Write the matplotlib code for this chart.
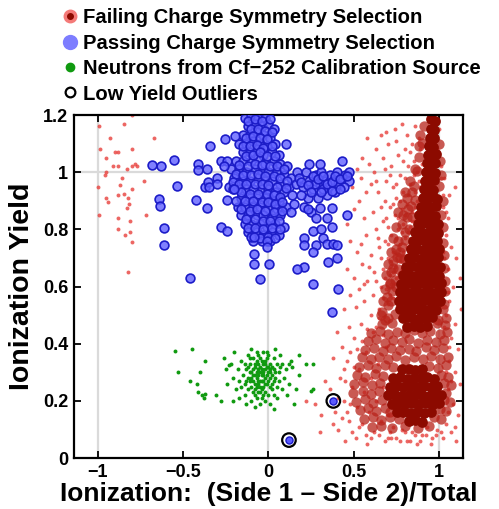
"""Ionization yield vs charge asymmetry scatter (recreated)."""

import matplotlib

matplotlib.use('Agg')
import matplotlib.pyplot as plt
import numpy as np
from matplotlib.legend_handler import HandlerTuple
from matplotlib.lines import Line2D

# --- data (x = asymmetry, y = ionization yield) ---

red_sparse = [
    # scattered events at the far left
    (-0.99, 1.16), (-0.845, 1.17), (-0.80, 1.20), (-0.67, 1.12), (-0.985, 1.08),
    (-0.95, 1.05), (-0.90, 1.07), (-0.88, 1.07), (-0.80, 1.08), (-0.91, 1.02),
    (-0.88, 1.02), (-0.83, 1.01), (-0.80, 1.02), (-0.78, 1.03), (-0.77, 1.02),
    (-0.96, 0.99), (-0.95, 1.00), (-1.00, 0.95), (-0.87, 0.955), (-0.73, 0.97),
    (-0.80, 0.94), (-0.95, 0.91), (-0.94, 0.895), (-0.88, 0.92), (-0.845, 0.925),
    (-0.82, 0.91), (-0.815, 0.89), (-0.83, 0.875), (-0.99, 0.85), (-0.72, 0.85),
    (-0.88, 0.84), (-0.81, 0.83), (-0.88, 0.80), (-0.81, 0.79), (-0.84, 0.78),
    (-0.80, 0.755), (-0.82, 0.65), (-0.93, 1.12), (-0.86, 0.98),
    # upper fan left of the plume
    (0.47, 0.99), (0.49, 0.95), (0.52, 1.01), (0.55, 1.05), (0.58, 1.12), (0.66, 1.13),
    (0.60, 0.96), (0.62, 1.00), (0.64, 0.93), (0.50, 0.87), (0.53, 0.90), (0.46, 0.82),
    (0.56, 0.84), (0.61, 0.86), (0.48, 0.76), (0.52, 0.72), (0.57, 0.78), (0.63, 0.80),
    (0.46, 0.66), (0.50, 0.63), (0.55, 0.68), (0.60, 0.71), (0.65, 0.74), (0.48, 0.57),
    (0.53, 0.59), (0.58, 0.62), (0.62, 0.65), (0.44, 0.52), (0.51, 0.53), (0.56, 0.55),
    (0.61, 0.57), (0.66, 0.60), (0.67, 1.05), (0.70, 1.10), (0.74, 1.15), (0.78, 1.17),
    (0.81, 1.13), (0.72, 1.02), (0.76, 1.06), (0.80, 1.08), (0.84, 1.10), (0.86, 1.16),
    (0.88, 1.12), (0.69, 0.97), (0.73, 0.95), (0.77, 0.99), (0.82, 1.02), (0.85, 1.04),
    (0.87, 1.00), (0.68, 0.90), (0.71, 0.88), (0.75, 0.91), (0.79, 0.93), (0.83, 0.96),
    (0.86, 0.93), (0.88, 0.97), (0.67, 0.83), (0.70, 0.81), (0.74, 0.85), (0.78, 0.87),
    (0.81, 0.89), (0.84, 0.86), (0.86, 0.88), (0.68, 0.76), (0.72, 0.78), (0.76, 0.80),
    (0.79, 0.82), (0.82, 0.79), (0.84, 0.83), (0.70, 0.70), (0.73, 0.72), (0.77, 0.75),
    (0.80, 0.77), (0.67, 0.66), (0.71, 0.64), (0.74, 0.67), (0.77, 0.69), (0.69, 0.59),
    (0.72, 0.61), (0.75, 0.63), (0.70, 0.54), (0.73, 0.56), (0.76, 0.58),
    (0.63, 1.08), (0.69, 1.14), (0.75, 1.11), (0.79, 1.04), (0.83, 1.07), (0.89, 1.08),
    (0.90, 1.03), (0.71, 0.99), (0.75, 0.96), (0.80, 0.98), (0.85, 0.99), (0.89, 0.95),
    (0.66, 0.88), (0.73, 0.89), (0.77, 0.90), (0.82, 0.92), (0.87, 0.90), (0.69, 0.84),
    (0.76, 0.84), (0.80, 0.85), (0.83, 0.81), (0.86, 0.83), (0.64, 0.77), (0.70, 0.75),
    (0.75, 0.77), (0.78, 0.79), (0.81, 0.74), (0.66, 0.70), (0.72, 0.69), (0.75, 0.71),
    (0.79, 0.72), (0.63, 0.62), (0.68, 0.63), (0.73, 0.65), (0.78, 0.66), (0.67, 0.56),
    (0.71, 0.57), (0.65, 0.52), (0.60, 0.50), (0.56, 0.61), (0.54, 0.75), (0.59, 0.67),
    (0.57, 0.93), (0.63, 0.97), (0.68, 1.01), (0.54, 0.98), (0.59, 1.03),
    # right of the plume
    (1.00, 1.15), (0.99, 1.08), (1.01, 1.02), (1.03, 0.98), (1.06, 0.92), (1.02, 0.88),
    (1.05, 0.84), (1.09, 0.95), (1.04, 0.78), (1.07, 0.74), (1.02, 0.72), (1.10, 0.70),
    (1.05, 0.66), (1.03, 0.62), (1.08, 0.60), (1.12, 0.63), (1.06, 0.55), (1.04, 0.50),
    (1.09, 0.47), (1.13, 0.52), (1.07, 0.42), (1.11, 0.38), (1.06, 0.34), (1.09, 0.30),
    (1.12, 0.26), (1.05, 0.24), (1.08, 0.19), (1.11, 0.15), (1.04, 0.12), (1.07, 0.09),
    (1.02, 0.07), (1.10, 0.06), (1.01, 0.98), (1.02, 0.92), (1.04, 0.86), (1.01, 0.80),
    (1.03, 0.70), (1.05, 0.58), (1.03, 0.46), (1.06, 0.39), (1.04, 0.30), (1.07, 0.27),
    (1.05, 0.16), (1.09, 0.11),
    # low-yield halo
    (0.36, 0.24), (0.39, 0.16), (0.42, 0.28), (0.41, 0.10), (0.44, 0.20), (0.46, 0.34),
    (0.47, 0.13), (0.49, 0.25), (0.50, 0.42), (0.51, 0.07), (0.52, 0.18), (0.53, 0.31),
    (0.54, 0.47), (0.55, 0.12), (0.56, 0.23), (0.57, 0.37), (0.58, 0.05), (0.59, 0.16),
    (0.60, 0.28), (0.61, 0.44), (0.62, 0.09), (0.63, 0.20), (0.64, 0.33), (0.65, 0.49),
    (0.66, 0.13), (0.67, 0.25), (0.68, 0.06), (0.69, 0.39), (0.70, 0.15), (0.71, 0.09),
    (0.73, 0.11), (0.75, 0.07), (0.78, 0.10), (0.81, 0.06), (0.84, 0.09), (0.87, 0.05),
    (0.90, 0.08), (0.93, 0.11), (0.96, 0.07), (0.99, 0.10), (0.43, 0.39), (0.47, 0.46),
    (0.38, 0.35), (0.45, 0.06), (0.40, 0.44), (0.22, 0.20), (0.27, 0.19), (0.31, 0.15),
    (0.33, 0.27), (0.30, 0.09), (0.38, 0.12), (0.41, 0.21), (0.43, 0.14), (0.45, 0.27),
    (0.48, 0.19), (0.49, 0.09), (0.50, 0.32), (0.52, 0.38), (0.53, 0.11), (0.55, 0.41),
    (0.57, 0.08), (0.58, 0.45), (0.60, 0.07), (0.63, 0.46), (0.65, 0.08), (0.67, 0.43),
    (0.70, 0.07), (0.72, 0.07), (0.77, 0.06), (0.80, 0.09), (0.83, 0.06), (0.86, 0.08),
    (0.89, 0.06), (0.92, 0.08), (0.95, 0.05), (0.98, 0.08), (1.01, 0.09), (0.46, 0.16),
    (0.44, 0.31), (0.48, 0.37),
]

red_mid = [
    (0.665, 0.468), (0.722, 0.474), (0.988, 0.472), (1.034, 0.466),
    (0.603, 0.437), (0.652, 0.446), (0.698, 0.433), (0.751, 0.442), (0.797, 0.436),
    (0.852, 0.447), (0.899, 0.438), (0.948, 0.444), (1.002, 0.435), (1.043, 0.442),
    (0.583, 0.408), (0.628, 0.415), (0.681, 0.404), (0.729, 0.412), (0.784, 0.406),
    (0.826, 0.417), (0.878, 0.403), (0.931, 0.414), (0.982, 0.407), (1.028, 0.413),
    (0.566, 0.377), (0.618, 0.385), (0.672, 0.376), (0.716, 0.386), (0.768, 0.378),
    (0.824, 0.383), (0.866, 0.374), (0.921, 0.387), (0.968, 0.379), (1.022, 0.384),
    (0.547, 0.352), (0.603, 0.346), (0.649, 0.355), (0.703, 0.347), (0.748, 0.356),
    (0.797, 0.344), (0.853, 0.353), (0.904, 0.346), (0.951, 0.356), (1.003, 0.347),
    (1.052, 0.353), (0.532, 0.318), (0.584, 0.326), (0.629, 0.315), (0.684, 0.324),
    (0.732, 0.317), (0.938, 0.322), (0.992, 0.316), (1.041, 0.325),
    (0.521, 0.292), (0.568, 0.284), (0.623, 0.294), (0.671, 0.286), (1.012, 0.291),
    (1.053, 0.283), (0.503, 0.258), (0.551, 0.266), (0.604, 0.255), (0.652, 0.264),
    (1.031, 0.262), (1.072, 0.254), (0.498, 0.228), (0.556, 0.236), (0.598, 0.224),
    (0.648, 0.233), (1.042, 0.227), (0.512, 0.197), (0.563, 0.205), (0.611, 0.193),
    (0.664, 0.202), (1.028, 0.204), (1.061, 0.196), (0.534, 0.168), (0.582, 0.174),
    (0.631, 0.165), (0.683, 0.176), (0.714, 0.162), (1.003, 0.172), (1.041, 0.166),
    (0.562, 0.138), (0.613, 0.145), (0.662, 0.134), (0.712, 0.143), (0.763, 0.136),
    (0.971, 0.144), (1.012, 0.137), (0.604, 0.108), (0.661, 0.114), (0.723, 0.106),
    (0.802, 0.113), (0.878, 0.104), (0.942, 0.112),
    (0.852, 0.952), (0.861, 0.902), (0.843, 0.843), (0.821, 0.803), (0.802, 0.762),
    (0.772, 0.722), (0.793, 0.698), (0.761, 0.663), (0.741, 0.622), (0.782, 0.641),
    (0.722, 0.583), (0.703, 0.534), (0.741, 0.503), (0.683, 0.482), (0.883, 1.052),
    (0.902, 1.103), (0.912, 1.162), (0.998, 0.953), (1.012, 0.852), (1.021, 0.752),
    (1.031, 0.664), (1.033, 0.583), (1.022, 0.521), (0.993, 0.483), (0.872, 1.003),
    (0.833, 0.882), (0.812, 0.842), (0.752, 0.702), (0.731, 0.664), (0.712, 0.612),
    (0.693, 0.562), (0.668, 0.512),
    (0.80, 0.93), (0.83, 0.97), (0.86, 1.01), (0.88, 1.09), (0.89, 1.13), (0.78, 0.89),
    (0.81, 0.91), (0.84, 0.93), (0.76, 0.86), (0.79, 0.85), (0.82, 0.87), (0.75, 0.81),
    (0.78, 0.82), (0.80, 0.79), (0.73, 0.77), (0.76, 0.76), (0.78, 0.74), (0.72, 0.72),
    (0.75, 0.73), (0.70, 0.68), (0.73, 0.69), (0.77, 0.70), (0.69, 0.64), (0.72, 0.65),
    (0.75, 0.60), (0.68, 0.59), (0.71, 0.61), (0.67, 0.55), (0.72, 0.55), (0.66, 0.50),
    (0.70, 0.49), (1.00, 1.10), (1.005, 1.04), (1.01, 0.99), (1.02, 0.90), (1.025, 0.81),
    (1.03, 0.71), (1.035, 0.62), (1.03, 0.54), (1.04, 0.49),
]

red_core = [
    # narrow high-yield plume
    (0.955, 1.185), (0.978, 1.180), (0.951, 1.152), (0.972, 1.148), (0.946, 1.121),
    (0.969, 1.118), (0.941, 1.090), (0.966, 1.088), (0.934, 1.061), (0.958, 1.058),
    (0.979, 1.063), (0.929, 1.031), (0.953, 1.028), (0.976, 1.033), (0.924, 1.000),
    (0.949, 1.002), (0.974, 0.998), (0.918, 0.970), (0.944, 0.968), (0.970, 0.972),
    (0.910, 0.940), (0.938, 0.942), (0.966, 0.938), (0.904, 0.911), (0.933, 0.909),
    (0.962, 0.912), (0.986, 0.908), (0.896, 0.880), (0.924, 0.882), (0.953, 0.878),
    (0.984, 0.881), (0.884, 0.851), (0.914, 0.849), (0.944, 0.852), (0.974, 0.848),
    (0.874, 0.820), (0.904, 0.822), (0.938, 0.818), (0.972, 0.821), (0.996, 0.819),
    (0.861, 0.790), (0.894, 0.792), (0.928, 0.788), (0.963, 0.791), (0.996, 0.789),
    (0.849, 0.760), (0.884, 0.762), (0.919, 0.758), (0.954, 0.761), (0.989, 0.759),
    (0.836, 0.730), (0.869, 0.732), (0.904, 0.728), (0.939, 0.731), (0.974, 0.729),
    (1.001, 0.732), (0.821, 0.700), (0.854, 0.702), (0.889, 0.698), (0.924, 0.701),
    (0.959, 0.699), (0.994, 0.702), (0.806, 0.670), (0.839, 0.672), (0.874, 0.668),
    (0.909, 0.671), (0.944, 0.669), (0.979, 0.672), (1.006, 0.668), (0.791, 0.640),
    (0.824, 0.642), (0.859, 0.638), (0.894, 0.641), (0.929, 0.639), (0.964, 0.642),
    (0.999, 0.638), (0.779, 0.610), (0.814, 0.612), (0.849, 0.608), (0.884, 0.611),
    (0.919, 0.609), (0.954, 0.612), (0.989, 0.608), (1.011, 0.611), (0.771, 0.580),
    (0.804, 0.582), (0.839, 0.578), (0.874, 0.581), (0.909, 0.579), (0.944, 0.582),
    (0.979, 0.578), (1.009, 0.581), (0.766, 0.550), (0.799, 0.552), (0.834, 0.548),
    (0.869, 0.551), (0.904, 0.549), (0.939, 0.552), (0.974, 0.548), (1.004, 0.551),
    (0.771, 0.520), (0.804, 0.522), (0.839, 0.518), (0.874, 0.521), (0.909, 0.519),
    (0.944, 0.522), (0.979, 0.518), (0.786, 0.490), (0.819, 0.492), (0.854, 0.488),
    (0.889, 0.491), (0.924, 0.489), (0.959, 0.492), (0.812, 0.460), (0.851, 0.462),
    (0.889, 0.458), (0.929, 0.461),
    # low-yield blob
    (0.781, 0.310), (0.821, 0.312), (0.861, 0.308), (0.899, 0.311), (0.731, 0.280),
    (0.771, 0.282), (0.811, 0.278), (0.851, 0.281), (0.891, 0.279), (0.931, 0.282),
    (0.969, 0.278), (0.711, 0.250), (0.751, 0.252), (0.791, 0.248), (0.831, 0.251),
    (0.871, 0.249), (0.911, 0.252), (0.951, 0.248), (0.988, 0.251), (0.701, 0.220),
    (0.741, 0.222), (0.781, 0.218), (0.821, 0.221), (0.861, 0.219), (0.901, 0.222),
    (0.941, 0.218), (0.979, 0.221), (1.008, 0.219), (0.721, 0.190), (0.761, 0.192),
    (0.801, 0.188), (0.841, 0.191), (0.881, 0.189), (0.921, 0.192), (0.961, 0.188),
    (0.998, 0.191), (0.751, 0.160), (0.791, 0.162), (0.831, 0.158), (0.871, 0.161),
    (0.911, 0.159), (0.951, 0.162), (0.821, 0.130), (0.861, 0.132), (0.901, 0.128),
]

blue_pass = [
    # main cluster near zero asymmetry
    (-0.14, 1.19), (-0.10, 1.20), (-0.06, 1.19), (-0.02, 1.19), (-0.12, 1.16), (-0.08, 1.17),
    (-0.04, 1.16), (0.00, 1.17), (0.03, 1.15), (-0.15, 1.13), (-0.11, 1.13), (-0.07, 1.14),
    (-0.03, 1.13), (0.01, 1.12), (-0.17, 1.10), (-0.13, 1.10), (-0.09, 1.11), (-0.05, 1.10),
    (-0.01, 1.09), (0.04, 1.10), (-0.15, 1.07), (-0.11, 1.07), (-0.07, 1.08), (-0.03, 1.06),
    (0.02, 1.07), (0.06, 1.06), (-0.19, 1.04), (-0.15, 1.04), (-0.10, 1.04), (-0.06, 1.05),
    (-0.02, 1.03), (0.03, 1.04), (0.07, 1.03), (0.11, 1.02), (-0.22, 1.01), (-0.17, 1.01),
    (-0.13, 1.00), (-0.08, 1.01), (-0.04, 1.00), (0.00, 1.00), (0.05, 1.00), (0.09, 0.99),
    (0.13, 0.98), (-0.20, 0.98), (-0.15, 0.97), (-0.11, 0.97), (-0.06, 0.98), (-0.02, 0.97),
    (0.02, 0.97), (0.07, 0.96), (0.12, 0.95), (-0.23, 0.95), (-0.18, 0.94), (-0.13, 0.94),
    (-0.09, 0.94), (-0.04, 0.94), (0.00, 0.94), (0.04, 0.93), (0.09, 0.93), (-0.16, 0.91),
    (-0.11, 0.91), (-0.07, 0.91), (-0.02, 0.91), (0.02, 0.90), (0.06, 0.90), (-0.18, 0.88),
    (-0.14, 0.88), (-0.09, 0.88), (-0.05, 0.88), (0.00, 0.87), (0.05, 0.87), (0.10, 0.88),
    (-0.16, 0.85), (-0.12, 0.85), (-0.07, 0.85), (-0.03, 0.85), (0.02, 0.84), (0.07, 0.85),
    (-0.14, 0.82), (-0.10, 0.82), (-0.05, 0.82), (-0.01, 0.81), (0.04, 0.82), (0.09, 0.81),
    (-0.12, 0.79), (-0.07, 0.79), (-0.03, 0.78), (0.02, 0.79), (0.06, 0.78), (-0.09, 0.76),
    (-0.04, 0.76), (0.01, 0.76), (-0.19, 0.90), (0.14, 0.92), (0.16, 0.96), (0.17, 1.00),
    (0.15, 0.89), (0.13, 0.86), (0.10, 1.10),
    (-0.12, 1.18), (-0.08, 1.185), (-0.04, 1.18), (0.01, 1.185), (-0.10, 1.15), (-0.06, 1.15),
    (-0.02, 1.145), (0.02, 1.14), (-0.13, 1.12), (-0.09, 1.125), (-0.05, 1.12), (-0.01, 1.115),
    (-0.15, 1.09), (-0.11, 1.09), (-0.07, 1.095), (-0.03, 1.085), (0.02, 1.09), (-0.13, 1.055),
    (-0.09, 1.06), (-0.05, 1.07), (-0.01, 1.055), (0.04, 1.055), (-0.17, 1.025), (-0.12, 1.02),
    (-0.08, 1.03), (-0.04, 1.025), (0.01, 1.02), (0.05, 1.02), (0.09, 1.01), (-0.19, 0.995),
    (-0.15, 0.99), (-0.10, 0.99), (-0.06, 0.995), (-0.02, 0.985), (0.03, 0.985), (0.07, 0.98),
    (0.11, 0.97), (-0.21, 0.965), (-0.17, 0.96), (-0.13, 0.96), (-0.08, 0.96), (-0.04, 0.96),
    (0.00, 0.955), (0.05, 0.95), (0.10, 0.945), (-0.16, 0.93), (-0.11, 0.925), (-0.06, 0.925),
    (-0.01, 0.925), (0.03, 0.92), (0.07, 0.915), (-0.14, 0.90), (-0.09, 0.90), (-0.04, 0.895),
    (0.00, 0.895), (0.04, 0.89), (0.08, 0.895), (-0.16, 0.87), (-0.11, 0.865), (-0.07, 0.87),
    (-0.02, 0.865), (0.03, 0.86), (0.08, 0.865), (-0.13, 0.835), (-0.08, 0.835), (-0.03, 0.83),
    (0.01, 0.83), (0.06, 0.83), (-0.12, 0.805), (-0.08, 0.805), (-0.03, 0.80), (0.02, 0.805),
    (0.07, 0.80), (-0.10, 0.775), (-0.05, 0.77), (0.00, 0.775), (0.04, 0.77),
    # arm towards positive asymmetry
    (0.18, 0.98), (0.20, 0.95), (0.22, 1.00), (0.24, 0.97), (0.26, 0.94), (0.28, 0.99),
    (0.30, 0.96), (0.31, 1.00), (0.33, 0.97), (0.35, 0.95), (0.36, 0.99), (0.38, 0.97),
    (0.40, 1.00), (0.41, 0.96), (0.43, 0.98), (0.45, 0.99), (0.47, 1.00), (0.47, 0.97),
    (0.44, 0.95), (0.39, 0.93), (0.34, 0.92), (0.29, 0.91), (0.23, 0.91), (0.19, 0.92),
    (0.21, 0.88), (0.25, 0.86), (0.27, 0.96), (0.32, 0.94),
    (0.19, 0.965), (0.23, 0.955), (0.26, 0.985), (0.29, 0.975), (0.32, 0.985), (0.34, 0.96),
    (0.37, 0.965), (0.39, 0.985), (0.42, 0.975), (0.46, 0.985), (0.25, 0.93), (0.31, 0.93),
    (0.37, 0.935), (0.42, 0.94),
    # stragglers
    (0.24, 1.03), (0.30, 1.03), (0.43, 1.04), (0.23, 0.87), (0.30, 0.875), (0.37, 0.875),
    (0.46, 0.85), (0.28, 0.84), (0.34, 0.84), (0.26, 0.795), (0.31, 0.80), (0.32, 0.77),
    (0.37, 0.81), (0.21, 0.77), (0.21, 0.745), (0.28, 0.745), (0.34, 0.75), (0.38, 0.75),
    (0.40, 0.745), (0.26, 0.72), (0.40, 0.70), (0.35, 0.685), (0.21, 0.67), (0.26, 0.61),
    (0.41, 0.59), (0.37, 0.51), (0.17, 0.66),
    (-0.68, 1.025), (-0.63, 1.02), (-0.554, 1.044), (-0.537, 0.952), (-0.64, 0.907),
    (-0.636, 0.882), (-0.613, 0.806), (-0.613, 0.744), (-0.46, 0.63), (-0.425, 0.903),
    (-0.41, 1.03), (-0.41, 1.007), (-0.36, 1.01), (-0.343, 1.09), (-0.37, 0.95),
    (-0.355, 0.965), (-0.35, 0.95), (-0.36, 0.875), (-0.255, 1.116), (-0.28, 0.81),
    (-0.24, 0.795), (-0.24, 0.903), (-0.196, 1.127), (-0.28, 1.04), (-0.245, 1.04),
    (-0.26, 1.02), (-0.30, 0.98), (-0.30, 0.96), (-0.21, 0.94), (-0.20, 0.94),
    (-0.085, 0.775), (-0.085, 0.715), (-0.085, 0.68), (-0.01, 0.76), (-0.01, 0.74),
    (0.003, 0.68), (-0.05, 0.625),
]

green_cf252 = [
    (-0.10, 0.30), (-0.08, 0.32), (-0.06, 0.29), (-0.04, 0.31), (-0.02, 0.28), (0.00, 0.30),
    (-0.09, 0.27), (-0.07, 0.25), (-0.05, 0.27), (-0.03, 0.25), (-0.01, 0.26), (0.01, 0.28),
    (0.03, 0.31), (-0.11, 0.33), (-0.07, 0.34), (-0.03, 0.33), (0.01, 0.33), (-0.05, 0.35),
    (-0.01, 0.35), (-0.12, 0.28), (-0.13, 0.31), (-0.08, 0.29), (-0.04, 0.29), (-0.02, 0.31),
    (0.02, 0.26), (0.04, 0.28), (-0.06, 0.31), (-0.10, 0.25), (-0.06, 0.23), (-0.02, 0.23),
    (0.02, 0.24), (-0.08, 0.22), (-0.04, 0.21), (0.00, 0.22), (-0.12, 0.24), (0.05, 0.33),
    (-0.15, 0.29), (-0.14, 0.26), (-0.09, 0.35), (-0.03, 0.37), (0.00, 0.36), (0.03, 0.35),
    (-0.07, 0.37), (0.06, 0.30), (0.05, 0.25), (-0.11, 0.30), (-0.05, 0.25), (-0.03, 0.30),
    (-0.01, 0.32), (-0.07, 0.28), (-0.09, 0.31), (0.01, 0.30), (-0.05, 0.32), (-0.03, 0.27),
    (-0.08, 0.26), (0.02, 0.29), (-0.04, 0.24), (-0.06, 0.26), (-0.11, 0.27), (-0.02, 0.34),
    (-0.09, 0.29), (-0.07, 0.30), (-0.05, 0.30), (-0.03, 0.29), (-0.01, 0.29), (0.01, 0.31),
    (-0.08, 0.33), (-0.06, 0.33), (-0.04, 0.34), (-0.02, 0.33), (0.00, 0.32), (-0.10, 0.28),
    (-0.06, 0.27), (-0.04, 0.27), (-0.02, 0.26), (0.00, 0.27), (0.03, 0.27), (-0.08, 0.24),
    (-0.05, 0.23), (-0.03, 0.22), (0.01, 0.25), (-0.12, 0.32), (-0.13, 0.27), (0.04, 0.30),
    (-0.07, 0.21), (0.02, 0.32), (-0.11, 0.35), (-0.06, 0.36), (-0.01, 0.37), (0.03, 0.22),
    (-0.14, 0.33), (0.06, 0.27), (-0.09, 0.23), (-0.16, 0.25), (0.07, 0.32), (-0.02, 0.20),
    (-0.18, 0.31), (-0.17, 0.27), (-0.16, 0.34), (-0.19, 0.24), (-0.14, 0.22), (-0.10, 0.20),
    (-0.05, 0.19), (0.01, 0.19), (0.05, 0.21), (0.08, 0.24), (0.09, 0.28), (0.08, 0.33),
    (0.07, 0.36), (-0.12, 0.36), (-0.17, 0.21), (0.10, 0.31), (0.12, 0.26), (0.11, 0.22),
    (-0.21, 0.28), (-0.22, 0.33), (-0.20, 0.37), (-0.13, 0.19), (-0.08, 0.18), (0.03, 0.17),
    (0.13, 0.34), (-0.24, 0.26), (-0.25, 0.31), (0.04, 0.38), (-0.10, 0.38),
    (-0.55, 0.374), (-0.45, 0.38), (-0.53, 0.30), (-0.46, 0.27), (-0.40, 0.30), (-0.37, 0.34),
    (-0.42, 0.26), (-0.41, 0.23), (-0.39, 0.22), (-0.37, 0.225), (-0.38, 0.21), (-0.31, 0.22),
    (-0.28, 0.20), (-0.26, 0.35), (-0.23, 0.325), (-0.21, 0.20), (0.176, 0.36), (0.22, 0.33),
    (0.26, 0.33), (0.25, 0.235), (0.26, 0.24), (0.14, 0.32), (0.12, 0.33), (0.16, 0.24),
    (0.18, 0.29), (0.15, 0.19),
]

low_yield_outliers = [(0.38, 0.20), (0.12, 0.063)]

x_ticks = [-1, -0.5, 0, 0.5, 1]
x_tick_labels = ['\u22121', '\u22120.5', '0', '0.5', '1']
y_ticks = [0, 0.2, 0.4, 0.6, 0.8, 1.0, 1.2]
y_tick_labels = ['0', '0.2', '0.4', '0.6', '0.8', '1', '1.2']
ref_x = [-1, 0, 1]
ref_y = [1]

labels = [
    'Failing Charge Symmetry Selection',
    'Passing Charge Symmetry Selection',
    'Neutrons from Cf\u2212252 Calibration Source',
    'Low Yield Outliers',
]


def _xy(points):
    arr = np.asarray(points, dtype=float)
    return arr[:, 0], arr[:, 1]


def main():
    plt.rcParams['font.family'] = ['Liberation Sans', 'DejaVu Sans']
    plt.rcParams['font.weight'] = 'bold'

    fig = plt.figure(figsize=(4.99, 5.09), dpi=100)
    ax = fig.add_axes([0.148, 0.1, 0.78, 0.674])

    for x in ref_x:
        ax.axvline(x, color='#dadada', linewidth=1.6, zorder=0)
    for y in ref_y:
        ax.axhline(y, color='#dadada', linewidth=1.6, zorder=0)

    x, y = _xy(red_sparse)
    ax.scatter(x, y, s=8, color='#e8403c', alpha=0.8, linewidths=0, zorder=1)
    x, y = _xy(red_mid)
    ax.scatter(x, y, s=55, color='#b8231a', alpha=0.75, linewidths=0, zorder=1)
    x, y = _xy(red_core)
    ax.scatter(x, y, s=60, color='#8c0a00', linewidths=0, zorder=2)

    x, y = _xy(green_cf252)
    ax.scatter(x, y, s=8, color='#109a10', linewidths=0, zorder=3)

    x, y = _xy(blue_pass)
    ax.scatter(x, y, s=40, facecolor=(0.38, 0.38, 1.0, 0.8), edgecolor='#1c1cc8',
               linewidths=1.2, zorder=4)

    x, y = _xy(low_yield_outliers)
    ax.scatter(x, y, s=26, facecolor='#5a5aff', edgecolor='#1c1cc8', linewidths=1, zorder=5)
    ax.scatter(x, y, s=95, facecolor='none', edgecolor='black', linewidths=1.6, zorder=5)

    ax.set_xlim(-1.14, 1.14)
    ax.set_ylim(0, 1.2)
    ax.set_xticks(x_ticks)
    ax.set_xticklabels(x_tick_labels)
    ax.set_yticks(y_ticks)
    ax.set_yticklabels(y_tick_labels)
    ax.tick_params(direction='in', top=True, right=True, length=5, width=1.3,
                   labelsize=13, pad=4)
    for spine in ax.spines.values():
        spine.set_linewidth(1.6)

    ax.set_xlabel('Ionization:  (Side 1 \u2013 Side 2)/Total', fontsize=19,
                  fontweight='bold', labelpad=1)
    ax.set_ylabel('Ionization Yield', fontsize=20.5, fontweight='bold', labelpad=6)

    handles = [
        (Line2D([], [], ls='', marker='o', ms=9, mfc='#f47a78', mec='#f47a78'),
         Line2D([], [], ls='', marker='o', ms=4, mfc='#8c0a00', mec='#8c0a00')),
        Line2D([], [], ls='', marker='o', ms=10, mfc='#7d7dff', mec='#7d7dff'),
        Line2D([], [], ls='', marker='o', ms=6, mfc='#109a10', mec='#109a10'),
        Line2D([], [], ls='', marker='o', ms=7, mfc='white', mec='black', mew=1.6),
    ]
    fig.legend(handles, labels, loc='upper left', bbox_to_anchor=(0.112, 0.992),
               frameon=False, borderaxespad=0, borderpad=0.2, handlelength=1.0,
               handletextpad=0.15, labelspacing=0.32,
               prop={'size': 14.6, 'weight': 'bold'},
               handler_map={tuple: HandlerTuple(ndivide=1)})

    fig.savefig('out.png', dpi=100)
    plt.close(fig)


if __name__ == '__main__':
    main()
